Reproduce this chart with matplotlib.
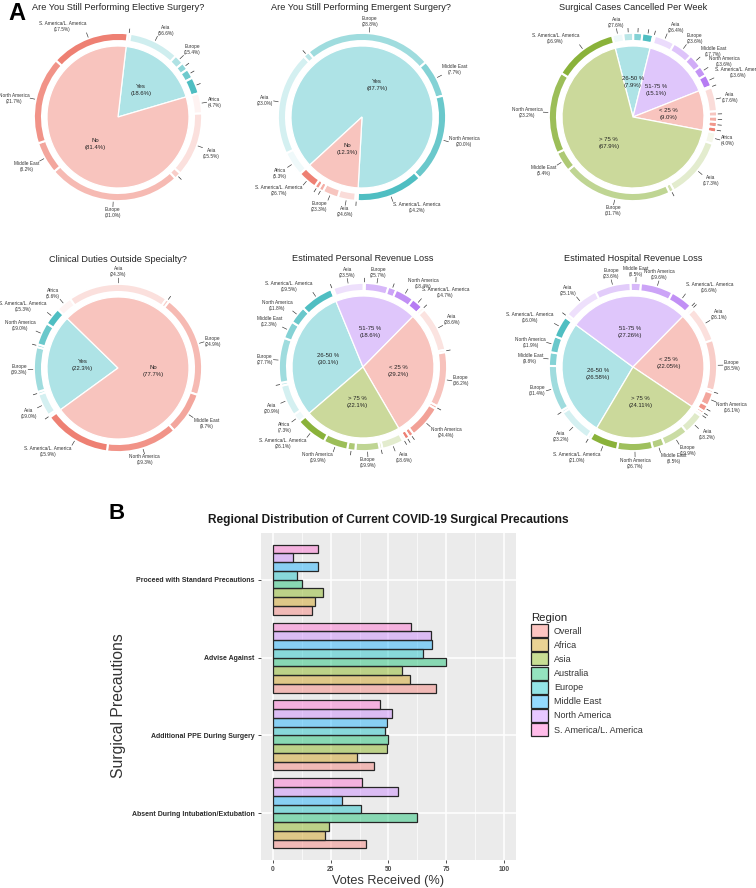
import numpy as np
import matplotlib
matplotlib.use("Agg")
import matplotlib.pyplot as plt
from matplotlib.colors import to_rgb
from matplotlib.patches import Patch

plt.rcParams['font.family'] = ['Liberation Sans', 'DejaVu Sans']

# ---------------- DATA: pies ----------------
PIE_TITLES = ["Are You Still Performing Elective Surgery?",
              "Are You Still Performing Emergent Surgery?",
              "Surgical Cases Cancelled Per Week",
              "Clinical Duties Outside Specialty?",
              "Estimated Personal Revenue Loss",
              "Estimated Hospital Revenue Loss"]

SAM = "S. America/L. America"

# Pie 1
P1_CATS = ["Yes", "No"]
P1_VALS = [18.6, 81.4]
P1_RING_NAMES = [["", "Asia", "Europe", "", "", ""],
                 ["Africa", "Asia", "", "Europe", "Middle East", "North America", SAM]]
P1_RING_PCTS = [[None, 56.6, 15.4, None, None, None],
                [4.7, 15.5, None, 31.0, 8.2, 21.7, 17.5]]
P1_RING_SHARES = [[3, 52, 10, 8, 10, 17],
                  [4.4, 14, 1.5, 29, 7, 19, 17]]

# Pie 2
P2_CATS = ["Yes", "No"]
P2_VALS = [87.7, 12.3]
P2_RING_NAMES = [["Africa", "Asia", "", "Europe", "Middle East", "North America", SAM],
                 ["", "Asia", "Europe", "", "", SAM]]
P2_RING_PCTS = [[5.3, 23.0, None, 28.8, 7.7, 20.0, 14.2],
                [None, 24.6, 23.3, None, None, 26.7]]
P2_RING_SHARES = [[5, 21, 1.3, 26, 7.6, 18, 13.6],
                  [3, 22, 20, 6, 6, 24]]

# Pie 3
P3_CATS = ["26-50 %", "51-75 %", "< 25 %", "> 75 %"]
P3_VALS = [7.9, 15.1, 9.0, 67.9]
P3_RING_NAMES = [["Asia", "", "", ""],
                 ["", "Asia", "Europe", "Middle East", "North America", SAM],
                 ["", "Asia", "", "", "", ""],
                 ["Africa", "Asia", "", "Europe", "Middle East", "North America", SAM]]
P3_RING_PCTS = [[27.6, None, None, None],
                [None, 26.4, 23.6, 17.7, 13.6, 13.6],
                [None, 17.6, None, None, None, None],
                [4.0, 17.3, None, 31.7, 5.4, 23.2, 16.9]]
P3_RING_SHARES = [[25, 22, 20, 24],
                  [2, 22, 22, 15, 11, 13],
                  [3, 50, 11, 11, 11, 11],
                  [3, 16, 1.3, 29, 5.3, 21.6, 16.7]]

# Pie 4
P4_CATS = ["Yes", "No"]
P4_VALS = [22.3, 77.7]
P4_RING_NAMES = [["", "Asia", "", "Europe", "", "North America", SAM],
                 ["Africa", "Asia", "", "Europe", "Middle East", "North America", SAM]]
P4_RING_PCTS = [[None, 19.0, None, 39.3, None, 19.0, 15.3],
                [5.6, 24.3, None, 24.9, 9.7, 19.3, 15.9]]
P4_RING_SHARES = [[2, 16, 2, 32, 2, 16, 12.6],
                  [3.6, 22.5, 0.8, 23, 9.5, 16, 15]]

# Pie 5
P5_CATS = ["26-50 %", "51-75 %", "< 25 %", "> 75 %"]
P5_VALS = [30.1, 18.6, 29.2, 22.1]
P5_RING_NAMES = [["Africa", "Asia", "", "Europe", "Middle East", "North America", SAM],
                 ["", "Asia", "", "Europe", "", "North America", SAM],
                 ["", "Asia", "", "Europe", "", "North America", "", ""],
                 ["", "Asia", "", "Europe", "", "North America", SAM]]
P5_RING_PCTS = [[7.3, 20.9, None, 27.7, 12.3, 11.8, 19.5],
                [None, 23.5, None, 25.7, None, 18.4, 14.7],
                [None, 28.6, None, 36.2, None, 24.4, None, None],
                [None, 18.6, None, 19.9, None, 19.9, 26.1]]
P5_RING_SHARES = [[4.5, 16, 1.5, 23, 9, 9, 17],
                  [2, 26, 1, 20, 7, 16, 10],
                  [2, 28, 1.5, 34, 2, 20.6, 3, 3],
                  [2, 16, 2, 18, 6, 18, 23]]

# Pie 6
P6_CATS = ["26-50 %", "51-75 %", "< 25 %", "> 75 %"]
P6_VALS = [26.58, 27.26, 22.05, 24.11]
P6_RING_NAMES = [["", "Asia", "", "Europe", "Middle East", "North America", SAM],
                 ["", "Asia", "Europe", "Middle East", "North America", SAM, ""],
                 ["", "Asia", "Europe", "", "North America", "", ""],
                 ["", "Asia", "Europe", "Middle East", "North America", SAM]]
P6_RING_PCTS = [[None, 23.2, None, 31.4, 9.8, 11.9, 16.0],
                [None, 25.1, 23.6, 8.5, 19.6, 16.6, None],
                [None, 26.1, 38.5, None, 16.1, None, None],
                [None, 18.2, 19.9, 8.5, 26.7, 21.0]]
P6_RING_SHARES = [[2, 20, 1.5, 27, 8, 9.5, 12.5],
                  [2, 21, 21, 6, 19, 13, 1],
                  [2, 27, 38, 2, 10, 5, 2],
                  [2, 14, 17, 8, 24, 19]]

# ---------------- DATA: bars ----------------
PRECAUTIONS = ["Proceed with Standard Precautions", "Advise Against",
               "Additional PPE During Surgery", "Absent During Intubation/Extubation"]
REGIONS = ["Overall", "Africa", "Asia", "Australia", "Europe",
           "Middle East", "North America", "S. America/L. America"]
V_OVERALL = [17.2, 70.4, 43.7, 40.5]
V_AFRICA = [18.2, 59.1, 36.4, 22.7]
V_ASIA = [21.6, 55.7, 49.3, 24.4]
V_AUSTRALIA = [12.5, 75.0, 50.0, 62.5]
V_EUROPE = [10.6, 64.8, 48.3, 38.1]
V_MIDEAST = [19.5, 68.7, 49.3, 29.9]
V_NAMERICA = [8.6, 68.2, 51.3, 54.0]
V_SAMERICA = [19.4, 59.9, 46.3, 38.6]
VOTES = [V_OVERALL, V_AFRICA, V_ASIA, V_AUSTRALIA, V_EUROPE,
         V_MIDEAST, V_NAMERICA, V_SAMERICA]
X_TICKS = [0, 25, 50, 75, 100]

# ---------------- styling ----------------
W, H = 756, 888
fig = plt.figure(figsize=(W / 100, H / 100), dpi=100)


def fx(px):
    return px / W


def fy(py):
    return 1 - py / H


CAT_STYLE = {"teal": ("#aee3e6", "#4fbec2"), "pink": ("#f8c4be", "#ee8073"),
             "purple": ("#dfc6fb", "#b67cf3"), "green": ("#cbd99b", "#8ab23a")}
CAT_KEY = {"Yes": "teal", "No": "pink", "26-50 %": "teal", "51-75 %": "purple",
           "< 25 %": "pink", "> 75 %": "green"}


def blend(c1, c2, t):
    a, b = np.array(to_rgb(c1)), np.array(to_rgb(c2))
    return tuple(a + (b - a) * t)


PIES = [
    dict(cats=P1_CATS, vals=P1_VALS, names=P1_RING_NAMES, pcts=P1_RING_PCTS, shares=P1_RING_SHARES,
         cell=(0, 0, 252, 245), center=(118, 117), start=83.4, dec=1, title_xy=(118, 8)),
    dict(cats=P2_CATS, vals=P2_VALS, names=P2_RING_NAMES, pcts=P2_RING_PCTS, shares=P2_RING_SHARES,
         cell=(252, 0, 504, 245), center=(362, 117), start=222.6, dec=1, title_xy=(361, 8)),
    dict(cats=P3_CATS, vals=P3_VALS, names=P3_RING_NAMES, pcts=P3_RING_PCTS, shares=P3_RING_SHARES,
         cell=(504, 0, 756, 245), center=(633, 117), start=104.5, dec=1, title_xy=(633, 8)),
    dict(cats=P4_CATS, vals=P4_VALS, names=P4_RING_NAMES, pcts=P4_RING_PCTS, shares=P4_RING_SHARES,
         cell=(0, 245, 252, 495), center=(118, 368), start=216.0, dec=1, title_xy=(118, 259)),
    dict(cats=P5_CATS, vals=P5_VALS, names=P5_RING_NAMES, pcts=P5_RING_PCTS, shares=P5_RING_SHARES,
         cell=(252, 245, 504, 495), center=(363, 367), start=220.7, dec=1, title_xy=(363, 258)),
    dict(cats=P6_CATS, vals=P6_VALS, names=P6_RING_NAMES, pcts=P6_RING_PCTS, shares=P6_RING_SHARES,
         cell=(504, 245, 756, 495), center=(633, 367), start=239.3, dec=2, title_xy=(633, 258)),
]

R_PX = 71.0
TXT = "#333333"


def draw_pie(spec, title):
    x0, y0, x1, y1 = spec["cell"]
    cx, cy = spec["center"]
    ax = fig.add_axes([x0 / W, 1 - y1 / H, (x1 - x0) / W, (y1 - y0) / H])
    cats, vals = spec["cats"], spec["vals"]
    inner_cols = [CAT_STYLE[CAT_KEY[c]][0] for c in cats]
    wedges, _ = ax.pie(vals, colors=inner_cols, startangle=spec["start"], counterclock=False,
                       radius=1.0, wedgeprops=dict(edgecolor="white", linewidth=0.9))
    sizes, cols, names, pcts = [], [], [], []
    for c, v, rn, rp, rs in zip(cats, vals, spec["names"], spec["pcts"], spec["shares"]):
        base, dark = CAT_STYLE[CAT_KEY[c]]
        light = blend(base, "white", 0.8)
        tot = float(sum(rs))
        n = len(rs)
        for i, (nm, p, s) in enumerate(zip(rn, rp, rs)):
            t = i / (n - 1) if n > 1 else 1.0
            sizes.append(v * s / tot)
            cols.append(blend(light, dark, t))
            names.append(nm)
            pcts.append(p)
    rw, _ = ax.pie(sizes, colors=cols, startangle=spec["start"], counterclock=False,
                   radius=1.185, wedgeprops=dict(width=0.115, edgecolor="white", linewidth=1.5))
    for w, nm, p in zip(rw, names, pcts):
        a = np.deg2rad((w.theta1 + w.theta2) / 2)
        ca, sa = np.cos(a), np.sin(a)
        if nm:
            ax.plot([1.20 * ca, 1.265 * ca], [1.20 * sa, 1.265 * sa], color=TXT, lw=0.45)
            ha = "left" if ca > 0.3 else ("right" if ca < -0.3 else "center")
            va = "bottom" if sa > 0.3 else ("top" if sa < -0.3 else "center")
            ax.text(1.275 * ca, 1.275 * sa, f"{nm}\n({p:.1f}%)", ha=ha, va=va,
                    fontsize=3.4, color=TXT, linespacing=1.25, multialignment="center",
                    clip_on=True)
        else:
            ax.plot([1.20 * ca, 1.25 * ca], [1.20 * sa, 1.25 * sa], color=TXT, lw=0.5)
    for w, c, v in zip(wedges, cats, vals):
        a = np.deg2rad((w.theta1 + w.theta2) / 2)
        r = 0.5
        ax.text(r * np.cos(a), r * np.sin(a), f"{c}\n({v:.{spec['dec']}f}%)", ha="center",
                va="center", fontsize=4.3, color="#222222", linespacing=1.5)
    ax.set_aspect("auto")
    ax.set_xlim((x0 - cx) / R_PX, (x1 - cx) / R_PX)
    ax.set_ylim((cy - y1) / R_PX, (cy - y0) / R_PX)
    ax.axis("off")
    tx, ty = spec["title_xy"]
    fig.text(fx(tx), fy(ty), title, ha="center", va="center", fontsize=6.6, color="#222222")


for spec, title in zip(PIES, PIE_TITLES):
    draw_pie(spec, title)

fig.text(fx(8), fy(2), "A", fontsize=17, fontweight="bold", va="top", ha="left")
fig.text(fx(108), fy(503), "B", fontsize=16, fontweight="bold", va="top", ha="left")

# ---------------- bar chart ----------------
HUE = ["#F8766D", "#CD9600", "#7CAE00", "#00BE67", "#00BFC4", "#00A9FF", "#C77CFF", "#FF61CC"]
ALPHA = 0.42
bax = fig.add_axes([fx(261), fy(860), (516 - 261) / W, (860 - 533) / H])
bax.set_facecolor("#EBEBEB")
nP = len(PRECAUTIONS)
bh = 0.9 / len(REGIONS)
for j, (reg, vals) in enumerate(zip(REGIONS, VOTES)):
    ys = [nP - c - 0.45 + (j + 0.5) * bh for c in range(nP)]
    bax.barh(ys, vals, height=bh, color=to_rgb(HUE[j]) + (ALPHA,), edgecolor="#262626",
             linewidth=0.9, zorder=3)
bax.set_xlim(-5, 105)
bax.set_ylim(0.4, nP + 0.6)
bax.set_xticks(X_TICKS)
bax.set_xticks([12.5, 37.5, 62.5, 87.5], minor=True)
bax.set_yticks([nP - c for c in range(nP)])
bax.set_yticklabels(PRECAUTIONS)
bax.grid(which="major", color="white", linewidth=1.1, zorder=0)
bax.grid(which="minor", axis="x", color="white", linewidth=0.5, zorder=0)
bax.set_axisbelow(True)
for s in bax.spines.values():
    s.set_visible(False)
bax.tick_params(axis="both", which="major", length=2.5, width=0.6, color="#333333", pad=2)
bax.tick_params(axis="both", which="minor", length=0)
bax.tick_params(axis="y", labelsize=5.0, labelcolor="#2b2b2b")
bax.tick_params(axis="x", labelsize=4.8, labelcolor="#4d4d4d")
for lab in bax.get_yticklabels() + bax.get_xticklabels():
    lab.set_fontweight("bold")

fig.text(fx(388), fy(520), "Regional Distribution of Current COVID-19 Surgical Precautions",
         ha="center", va="center", fontsize=8.6, fontweight="bold", color="#1a1a1a")
fig.text(fx(388), fy(881), "Votes Received (%)", ha="center", va="center", fontsize=9.2,
         color="#333333")
fig.text(fx(119), fy(706), "Surgical Precautions", ha="center", va="center", rotation=90,
         fontsize=11.3, color="#333333")

handles = [Patch(facecolor=to_rgb(c) + (ALPHA,), edgecolor="#262626", linewidth=0.9) for c in HUE]
leg = fig.legend(handles, REGIONS, loc="upper left", bbox_to_anchor=(fx(531), fy(613)),
                 frameon=False, fontsize=6.5, title="Region", title_fontsize=8.2,
                 handlelength=1.85, handleheight=1.85, labelspacing=0.12, handletextpad=0.7,
                 borderpad=0, borderaxespad=0, alignment="left")
for t in leg.get_texts():
    t.set_color("#333333")
leg.get_title().set_color("#222222")

fig.savefig("out.png", dpi=100)
